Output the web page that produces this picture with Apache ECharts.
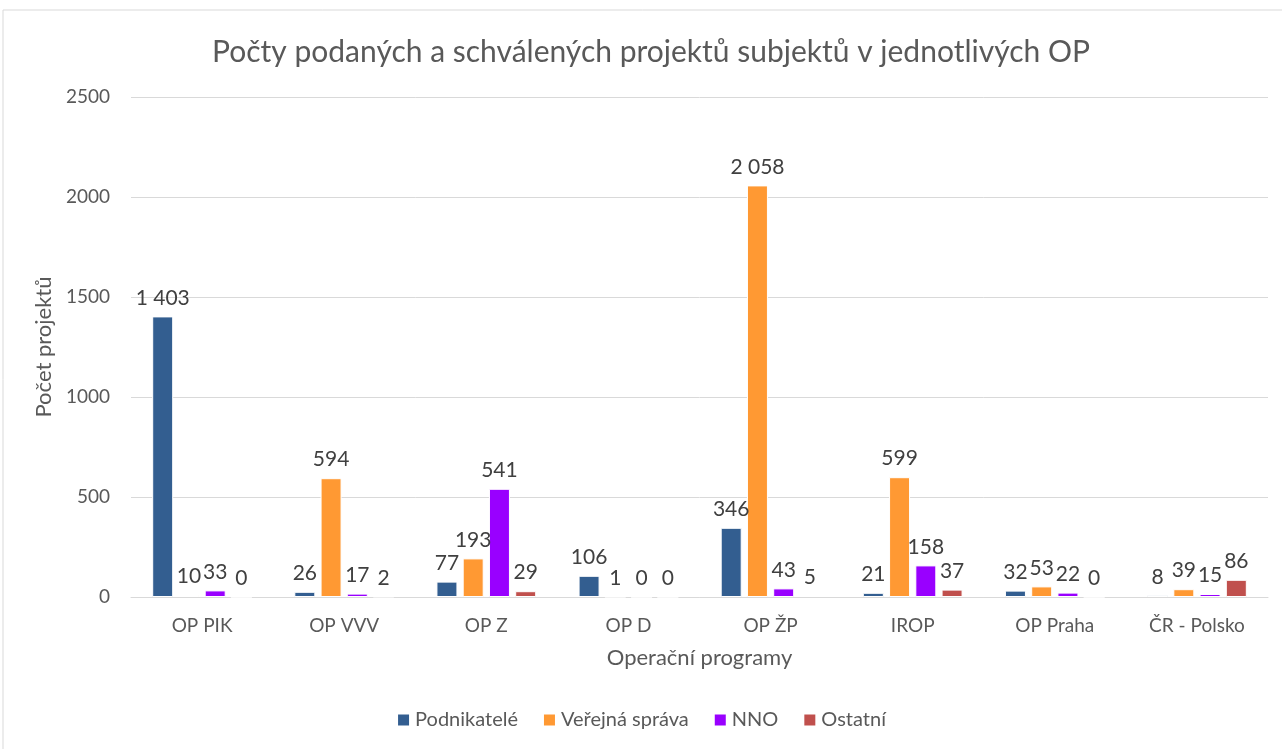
<!DOCTYPE html>
<html>
<head>
	<meta charset="UTF-8">
	<title>Počty projektů</title>
	<script src="https://cdn.jsdelivr.net/npm/echarts@6/dist/echarts.min.js"></script>
	<style>
		html, body { margin: 0; padding: 0; background: #fff; }
	</style>
</head>
<body>
	<div id="chart1" style="width: 1282px;height: 749px;"></div>
<script type="text/javascript">
	// kategorie a hodnoty
	var programy = ['OP PIK', 'OP VVV', 'OP Z', 'OP D', 'OP ŽP', 'IROP', 'OP Praha', 'ČR - Polsko'];
	var podnikatele = [1403, 26, 77, 106, 346, 21, 32, 8];
	var verejnaSprava = [10, 594, 193, 1, 2058, 599, 53, 39];
	var nno = [33, 17, 541, 0, 43, 158, 22, 15];
	var ostatni = [0, 2, 29, 0, 5, 37, 0, 86];

	var font = 'Lato, "Open Sans", sans-serif';

	function fmt(v) {
		return String(v).replace(/\B(?=(\d{3})+(?!\d))/g, ' ');
	}

	function serie(name, data, color) {
		return {
			name: name,
			type: 'bar',
			data: data,
			barWidth: 21,
			barGap: '25%',
			itemStyle: { color: color, borderColor: '#fff', borderWidth: 1 },
			label: {
				show: true,
				position: 'top',
				distance: 8,
				color: '#404040',
				fontSize: 21,
				fontFamily: font,
				formatter: function (p) { return fmt(p.value); }
			}
		};
	}

	var chart1 = echarts.init(document.getElementById('chart1'));
	var option = {
		animation: false,
		textStyle: { fontFamily: font },
		graphic: [
			{ type: 'line', shape: { x1: 3, y1: 10, x2: 1282, y2: 10 }, style: { stroke: '#d9d9d9', lineWidth: 1 } },
			{ type: 'line', shape: { x1: 3, y1: 10, x2: 3, y2: 749 }, style: { stroke: '#d9d9d9', lineWidth: 1 } }
		],
		title: {
			text: 'Počty podaných a schválených projektů subjektů v jednotlivých OP',
			left: 646,
			textAlign: 'center',
			top: 32,
			textStyle: { color: '#595959', fontSize: 30, fontWeight: 'normal', fontFamily: font }
		},
		legend: {
			bottom: 14,
			left: 'center',
			itemWidth: 13,
			itemHeight: 13,
			itemGap: 24,
			icon: 'rect',
			textStyle: { color: '#595959', fontSize: 20, fontFamily: font },
			data: ['Podnikatelé', 'Veřejná správa', 'NNO', 'Ostatní']
		},
		grid: { left: 131, right: 14, top: 97, bottom: 152, containLabel: false },
		xAxis: {
			type: 'category',
			data: programy,
			name: 'Operační programy',
			nameLocation: 'middle',
			nameGap: 50,
			nameTextStyle: { color: '#595959', fontSize: 22, fontFamily: font },
			axisLine: { lineStyle: { color: '#d9d9d9', width: 1 } },
			axisTick: { show: false },
			axisLabel: { color: '#595959', fontSize: 19, margin: 19, fontFamily: font }
		},
		yAxis: {
			type: 'value',
			min: 0,
			max: 2500,
			interval: 500,
			name: 'Počet projektů',
			nameLocation: 'middle',
			nameGap: 73,
			nameRotate: 90,
			nameTextStyle: { color: '#595959', fontSize: 22, fontFamily: font },
			axisLine: { show: false },
			axisTick: { show: false },
			axisLabel: {
				color: '#595959', fontSize: 19, margin: 21, fontFamily: font,
				formatter: function (v) { return String(v); }
			},
			splitLine: { lineStyle: { color: '#d9d9d9', width: 1 } }
		},
		series: [
			serie('Podnikatelé', podnikatele, '#335E90'),
			serie('Veřejná správa', verejnaSprava, '#FF9933'),
			serie('NNO', nno, '#9900FF'),
			serie('Ostatní', ostatni, '#C0504D')
		]
	};
	chart1.setOption(option);
</script>
</body>
</html>
